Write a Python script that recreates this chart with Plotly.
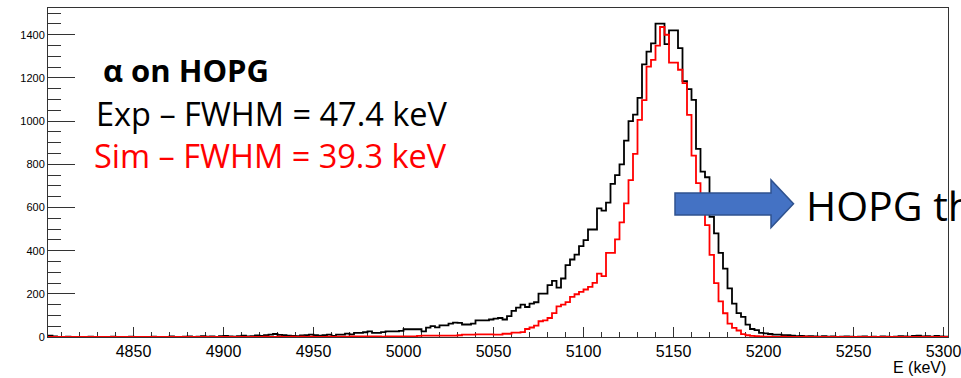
import plotly.graph_objects as go

# ---------------- data ----------------
bin_start = 4802.5
bin_width = 2.5

exp_counts = [
    6, 3, 1, 0, 2, 0, 1, 0, 0, 2,
    1, 0, 0, 1, 2, 0, 1, 0, 2, 1,
    0, 1, 0, 2, 1, 0, 1, 3, 1, 0,
    2, 3, 1, 2, 4, 2, 3, 1, 4, 5,
    3, 2, 4, 6, 3, 4, 7, 5, 8, 11,
    14, 10, 8, 6, 5, 4, 7, 9, 11, 8,
    6, 9, 11, 5, 11, 11, 16, 12, 19, 19,
    22, 26, 19, 19, 23, 26, 26, 26, 28, 36,
    36, 36, 36, 26, 43, 50, 45, 54, 54, 62,
    67, 65, 58, 58, 62, 77, 77, 77, 81, 85,
    88, 81, 97, 121, 136, 150, 139, 155, 161, 201,
    201, 240, 260, 229, 271, 333, 359, 382, 421, 449,
    498, 498, 596, 585, 622, 709, 750, 800, 910, 1000,
    1030, 1108, 1263, 1322, 1360, 1452, 1452, 1357, 1420, 1420,
    1338, 1185, 1148, 1098, 871, 766, 740, 557, 480, 390,
    317, 225, 155, 111, 93, 57, 37, 32, 19, 17,
    14, 11, 11, 8, 8, 6, 4, 5, 3, 4,
    3, 2, 4, 2, 3, 1, 2, 3, 2, 1,
    2, 3, 1, 2, 1, 3, 2, 1, 2, 4,
    3, 2, 5, 6, 3, 4, 2, 5, 3, 2,
]

sim_counts = [
    1, 0, 0, 1, 0, 0, 1, 0, 0, 0,
    0, 1, 0, 0, 0, 1, 0, 0, 0, 1,
    0, 0, 1, 0, 0, 0, 1, 0, 0, 1,
    0, 0, 1, 0, 1, 0, 0, 1, 0, 1,
    1, 0, 1, 1, 0, 1, 1, 1, 2, 1,
    1, 2, 1, 1, 2, 1, 2, 1, 2, 1,
    1, 1, 2, 1, 2, 2, 2, 3, 3, 3,
    3, 3, 3, 3, 2, 3, 3, 3, 3, 3,
    3, 3, 5, 6, 6, 6, 6, 6, 6, 6,
    6, 8, 11, 11, 11, 12, 12, 12, 12, 11,
    11, 15, 15, 20, 20, 23, 37, 44, 53, 73,
    77, 88, 111, 142, 150, 162, 186, 198, 209, 220,
    232, 251, 294, 282, 390, 390, 452, 531, 619, 727,
    848, 1006, 1097, 1252, 1284, 1350, 1436, 1400, 1271, 1271,
    1238, 1176, 1029, 840, 713, 620, 518, 380, 250, 165,
    110, 62, 42, 30, 13, 8, 5, 4, 3, 2,
    2, 1, 1, 2, 1, 1, 1, 1, 2, 1,
    1, 1, 1, 1, 1, 1, 1, 1, 1, 1,
    1, 1, 1, 1, 1, 1, 1, 1, 1, 1,
    1, 1, 1, 1, 1, 1, 1, 1, 1, 1,
]

x_tick_vals = [4850, 4900, 4950, 5000, 5050, 5100, 5150, 5200, 5250, 5300]
y_tick_vals = [0, 200, 400, 600, 800, 1000, 1200, 1400]

title_text = "\u03b1 on HOPG"
exp_text = "Exp \u2013 FWHM = 47.4 keV"
sim_text = "Sim \u2013 FWHM = 39.3 keV"
side_text = "HOPG th"
x_title = "E (keV)"

# ---------------- figure ----------------
n = len(exp_counts)
edges = [bin_start + bin_width * i for i in range(n + 1)]

W, H = 961, 378
L, R, T, B = 48, 13, 8, 41
pw, ph = W - L - R, H - T - B


def px(xp):
    return (xp - L) / pw


def py(yp):
    return (H - B - yp) / ph


fig = go.Figure()
fig.add_trace(go.Scatter(x=edges, y=exp_counts + [exp_counts[-1]], mode="lines",
                         line=dict(color="black", width=1.8, shape="hv"),
                         showlegend=False, hoverinfo="skip"))
fig.add_trace(go.Scatter(x=edges, y=sim_counts + [sim_counts[-1]], mode="lines",
                         line=dict(color="#ff0000", width=1.8, shape="hv"),
                         showlegend=False, hoverinfo="skip"))

axis_font = "Liberation Sans, Arial, sans-serif"
fig.update_xaxes(range=[edges[0], edges[-1]], showline=True, mirror=True,
                 linecolor="#333333", linewidth=1, showgrid=False, zeroline=False,
                 ticks="inside", ticklen=10, tickcolor="#333333", tickwidth=1,
                 tickvals=x_tick_vals, tickfont=dict(family=axis_font, size=16, color="black"),
                 ticklabeloverflow="allow", automargin=False,
                 minor=dict(ticks="inside", ticklen=5, dtick=10, tick0=4800,
                            tickcolor="#333333", showgrid=False),
                 layer="below traces")
fig.update_yaxes(range=[0, 1524], showline=True, mirror=True,
                 linecolor="#333333", linewidth=1, showgrid=False, zeroline=False,
                 ticks="inside", ticklen=27, tickcolor="#333333", tickwidth=1,
                 tickvals=y_tick_vals, tickfont=dict(family=axis_font, size=11, color="black"),
                 automargin=False,
                 minor=dict(ticks="inside", ticklen=13, dtick=50, tick0=0,
                            tickcolor="#333333", showgrid=False),
                 layer="below traces")

# arrow decoration
arrow_pts = [(675, 193), (771, 193), (771, 180), (793.5, 203.8),
             (771, 227.5), (771, 215), (675, 215)]
path = "M " + " L ".join(f"{px(a):.5f},{py(b):.5f}" for a, b in arrow_pts) + " Z"
fig.add_shape(type="path", path=path, xref="paper", yref="paper",
              fillcolor="#4472C4", line=dict(color="#2F528F", width=1.5), layer="above")

text_font = "Open Sans, Noto Sans, sans-serif"
fig.add_annotation(x=px(101), y=py(70), xref="paper", yref="paper", text="<b>" + title_text + "</b>",
                   showarrow=False, xanchor="left", yanchor="middle",
                   font=dict(family=text_font, size=31, color="black"))
fig.add_annotation(x=px(94), y=py(113), xref="paper", yref="paper", text=exp_text,
                   showarrow=False, xanchor="left", yanchor="middle",
                   font=dict(family=text_font, size=32.5, color="black"))
fig.add_annotation(x=px(92), y=py(156), xref="paper", yref="paper", text=sim_text,
                   showarrow=False, xanchor="left", yanchor="middle",
                   font=dict(family=text_font, size=32.5, color="#ff0000"))
fig.add_annotation(x=px(804), y=py(205), xref="paper", yref="paper", text=side_text,
                   showarrow=False, xanchor="left", yanchor="middle",
                   font=dict(family=text_font, size=41, color="black"))
fig.add_annotation(x=1.0, y=py(367), xref="paper", yref="paper", text=x_title,
                   showarrow=False, xanchor="right", yanchor="middle",
                   font=dict(family=axis_font, size=16, color="black"))

fig.update_layout(width=W, height=H,
                  margin=dict(l=L, r=R, t=T, b=B, pad=0, autoexpand=False),
                  paper_bgcolor="white", plot_bgcolor="white")

fig.write_html("out.html", config={"displayModeBar": False},
               post_script="document.body.style.margin='0';document.body.style.overflow='hidden';")
